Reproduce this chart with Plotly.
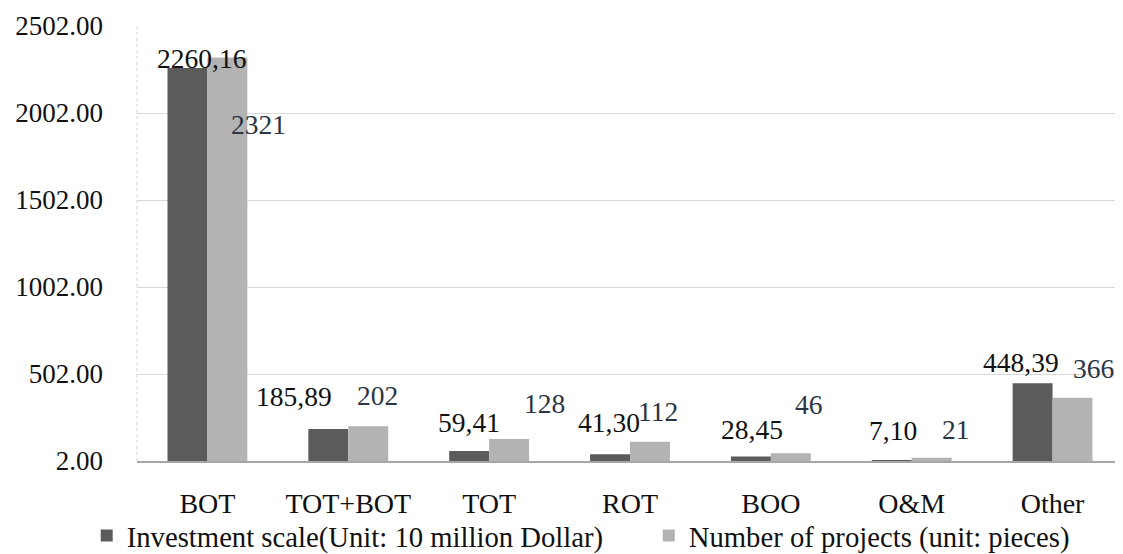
import plotly.graph_objects as go

categories = ["BOT", "TOT+BOT", "TOT", "ROT", "BOO", "O&M", "Other"]
investment = [2260.16, 185.89, 59.41, 41.30, 28.45, 7.10, 448.39]
projects = [2321, 202, 128, 112, 46, 21, 366]
series_names = ["Investment scale(Unit: 10 million Dollar)", "Number of projects (unit: pieces)"]
y_ticks = [2, 502, 1002, 1502, 2002, 2502]

# label placement styles (pixel offsets relative to bar top / bar centre)
dark_dx = [14, -34, 0, -1, 1, 1, -12]
dark_dy = [10, 33, 29, 32, 27, 30, 21]
light_dx = [31, 9, 35, 8, 18, 24, 21]
light_dy = [-67, 31, 36, 30, 49, 28, 29]
BAR_HALF = 20

FONT = "Liberation Serif"
DARK = "#5b5b5b"
LIGHT = "#b3b3b3"

fig = go.Figure()
fig.add_trace(go.Bar(x=categories, y=investment, name=series_names[0], marker_color=DARK,
                     marker_line_width=0, legend="legend"))
fig.add_trace(go.Bar(x=categories, y=projects, name=series_names[1], marker_color=LIGHT,
                     marker_line_width=0, legend="legend2"))

for i, c in enumerate(categories):
    fig.add_annotation(x=c, y=investment[i], text=f"{investment[i]:.2f}".replace(".", ","),
                       showarrow=False, xshift=-BAR_HALF + dark_dx[i], yshift=dark_dy[i],
                       yanchor="middle", xanchor="center",
                       font=dict(family=FONT, size=27.5, color="#111111"))
    fig.add_annotation(x=c, y=projects[i], text=str(projects[i]),
                       showarrow=False, xshift=BAR_HALF + light_dx[i], yshift=light_dy[i],
                       yanchor="middle", xanchor="center",
                       font=dict(family=FONT, size=27.5, color="#2b3544"))

fig.add_shape(type="line", xref="paper", yref="paper", x0=0, x1=0, y0=0, y1=1,
              line=dict(color="#d0d0d0", width=1, dash="dot"))

legend_common = dict(orientation="h", yanchor="middle", y=-0.172, xanchor="left",
                     font=dict(family=FONT, size=28.7, color="#111111"),
                     bgcolor="rgba(0,0,0,0)", itemwidth=30)

fig.update_layout(
    width=1123, height=554,
    margin=dict(l=129, r=8, t=18, b=101, autoexpand=False),
    paper_bgcolor="white", plot_bgcolor="white",
    font=dict(family=FONT, size=27, color="#111111"),
    barmode="group", bargap=0.433, bargroupgap=0,
    showlegend=True,
    legend=dict(x=-0.051, **legend_common),
    legend2=dict(x=0.519, **legend_common),
    xaxis=dict(showgrid=False, showline=True, linecolor="#a6a6a6", linewidth=1.5,
               automargin=False, ticks="", ticklabelstandoff=17,
               tickfont=dict(family=FONT, size=28, color="#111111")),
    yaxis=dict(range=[2, 2502], tickvals=y_ticks, tickformat=".2f", showgrid=True,
               gridcolor="#d9d9d9", gridwidth=1, zeroline=False, showline=False,
               automargin=False, ticks="", ticklabelstandoff=33,
               tickfont=dict(family=FONT, size=27, color="#111111")),
)

fig.write_html("out.html")
